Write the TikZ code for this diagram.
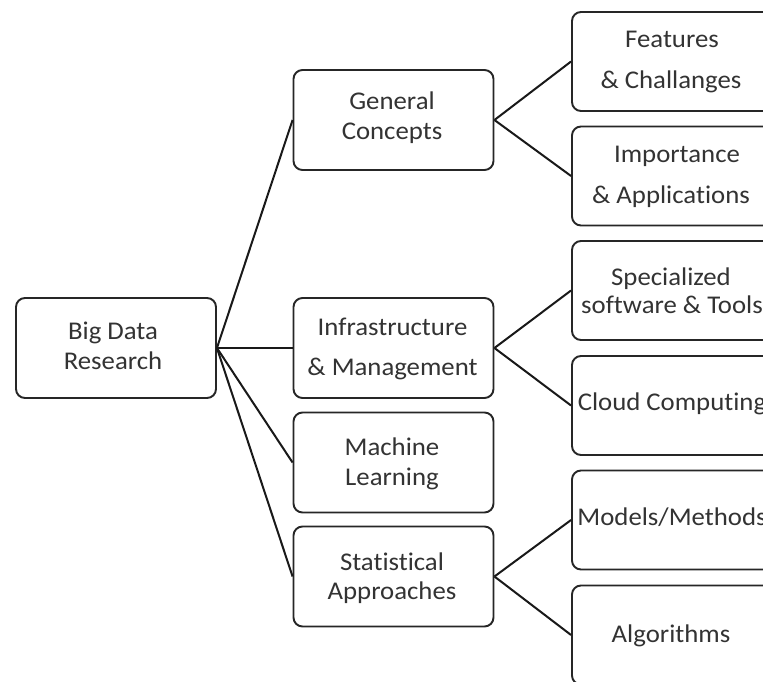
\documentclass[tikz,border=0pt]{standalone}
\usepackage{fontspec}
\setmainfont[FakeStretch=1.05,Ligatures={NoCommon,NoContextual}]{Carlito}
\newcommand{\nolig}{\kern0pt{}}
\begin{document}
\begin{tikzpicture}[x=1pt,y=-1pt,
  box/.style={draw=black!85, line width=1.9pt, rounded corners=9pt, inner sep=0pt,
              minimum width=200pt, minimum height=100pt, fill=white},
  rbox/.style={box, minimum height=99pt},
  txt/.style={anchor=base, inner sep=0pt, text=black!80, font=\fontsize{25.5}{30}\selectfont},
  link/.style={draw=black!90, line width=2pt}]
\useasboundingbox (0,0) rectangle (763,682);
\fill[white] (0,0) rectangle (763,682);
% boxes
\node[box] (root) at (116,348) {};
\node[box] (gc) at (393.5,120) {};
\node[box] (im) at (393.5,348) {};
\node[box] (ml) at (393.5,462.5) {};
\node[box] (sa) at (393.5,576.5) {};
\node[rbox] (f1) at (672,61.5) {};
\node[rbox] (f2) at (672,176) {};
\node[rbox] (f3) at (672,290.5) {};
\node[rbox] (f4) at (672,405.5) {};
\node[rbox] (f5) at (672,520) {};
\node[rbox] (f6) at (672,635) {};
% connectors
\draw[link] (root.east) -- (gc.west);
\draw[link] (root.east) -- (im.west);
\draw[link] (root.east) -- (ml.west);
\draw[link] (root.east) -- (sa.west);
\draw[link] (gc.east) -- (f1.west);
\draw[link] (gc.east) -- (f2.west);
\draw[link] (im.east) -- (f3.west);
\draw[link] (im.east) -- (f4.west);
\draw[link] (sa.east) -- (f5.west);
\draw[link] (sa.east) -- (f6.west);
% texts
\node[txt] (roota) at (113,339) {Big Data};
\node[txt] (rootb) at (113,369) {Research};
\node[txt] (gca) at (392,110) {General};
\node[txt] (gcb) at (392,140) {Concepts};
\node[txt] (ima) at (392.5,335) {Infrastructure};
\node[txt] (imb) at (392.5,375) {\& Management};
\node[txt] (mla) at (392,455) {Machine};
\node[txt] (mlb) at (392,485) {Learning};
\node[txt] (saa) at (392,570) {Stat\nolig ist\nolig ical};
\node[txt] (sab) at (392,599) {Approaches};
\node[txt] (f1a) at (672,48) {Features};
\node[txt] (f1b) at (671,89) {\& Challanges};
\node[txt] (f2a) at (677,163) {Importance};
\node[txt] (f2b) at (671,203) {\& Applicat\nolig ions};
\node[txt] (f3a) at (671,285) {Specialized};
\node[txt] (f3b) at (672,313) {software \& Tools};
\node[txt] (f4a) at (672,410) {Cloud Computing};
\node[txt] (f5a) at (672,525) {Models/Methods};
\node[txt] (f6a) at (671,642) {Algorithms};
\end{tikzpicture}
\end{document}
